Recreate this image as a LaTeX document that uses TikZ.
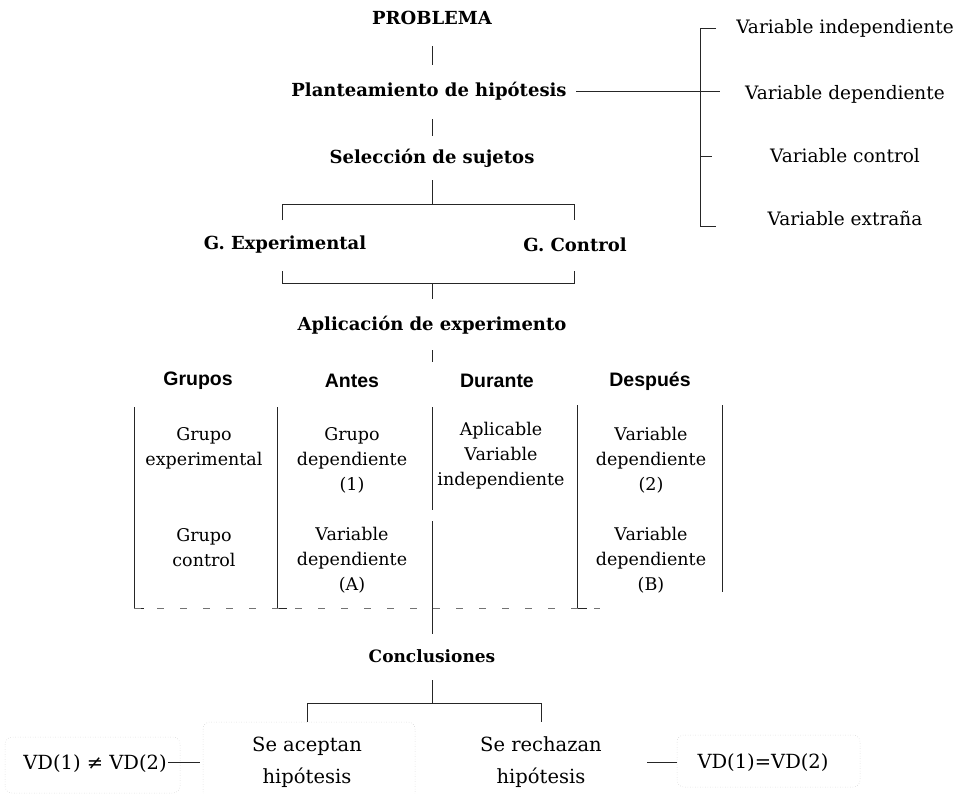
\documentclass[tikz,border=0pt]{standalone}
\usepackage{fontspec}
\setmainfont{DejaVu Serif}
\newfontfamily\headsans{Liberation Sans}
\begin{document}
\begin{tikzpicture}[x=1pt,y=-1pt,
  conn/.style={draw=black!85, line width=0.7pt},
  dashconn/.style={draw=black!55, line width=0.6pt, dash pattern=on 7pt off 16pt},
  ttl/.style={font=\fontsize{18}{21}\selectfont\bfseries, inner sep=0pt},
  var/.style={font=\fontsize{18.5}{22}\selectfont, inner sep=0pt},
  hdr/.style={font=\headsans\bfseries\fontsize{19.5}{22}\selectfont, inner sep=0pt},
  cell/.style={font=\fontsize{17.5}{25}\selectfont, align=center, inner sep=0pt},
  btm/.style={font=\fontsize{19.5}{32}\selectfont, align=center, inner sep=0pt},
  faint/.style={draw=black!22, line width=0.5pt, dotted, rounded corners=7pt},
]
\useasboundingbox (0,0) rectangle (969,793);

% main column
\node[ttl] (prob) at (432,18) {PROBLEMA};
\node[ttl] (plan) at (429,91) {Planteamiento de hipótesis};
\node[ttl] (sel)  at (432,158) {Selección de sujetos};
\node[ttl] (gexp) at (285,245) {G. Experimental};
\node[ttl] (gctl) at (575,245) {G. Control};
\node[ttl] (apl)  at (432,325) {Aplicación de experimento};

\coordinate (p1) at (432,46);  \coordinate (p2) at (432,65);
\coordinate (p3) at (432,119); \coordinate (p4) at (432,136);
\coordinate (p5) at (432,180); \coordinate (p6) at (432,204);
\coordinate (bl1) at (282,220); \coordinate (bl0) at (282,204);
\coordinate (br0) at (574,204); \coordinate (br1) at (574,220);
\coordinate (bl2) at (282,271); \coordinate (bl3) at (282,283);
\coordinate (br3) at (574,283); \coordinate (br2) at (574,271);
\coordinate (p7) at (432,283); \coordinate (p8) at (432,299);
\coordinate (p9) at (432,350); \coordinate (p10) at (432,362);
\draw[conn] (p1) -- (p2);
\draw[conn] (p3) -- (p4);
\draw[conn] (p5) -- (p6);
\draw[conn] (bl1) -- (bl0) -- (br0) -- (br1);
\draw[conn] (bl2) -- (bl3) -- (br3) -- (br2);
\draw[conn] (p7) -- (p8);
\draw[conn] (p9) -- (p10);

% variables on the right
\node[var] (vind) at (845,28)  {Variable independiente};
\node[var] (vdep) at (845,94)  {Variable dependiente};
\node[var] (vctl) at (845,156) {Variable control};
\node[var] (vext) at (845,218) {Variable extraña};
\coordinate (h0) at (576,91);
\coordinate (ht) at (700,28);  \coordinate (htt) at (716,28);
\coordinate (hm) at (700,91);  \coordinate (hmt) at (720,91);
\coordinate (hc) at (700,156); \coordinate (hct) at (712,156);
\coordinate (hb) at (700,226); \coordinate (hbt) at (716,226);
\draw[conn] (h0) -- (hmt);
\draw[conn] (htt) -- (ht) -- (hb) -- (hbt);
\draw[conn] (hc) -- (hct);

% table headers
\node[hdr] (hgr) at (198,381) {Grupos};
\node[hdr] (han) at (352,381) {Antes};
\node[hdr] (hdu) at (497,381) {Durante};
\node[hdr] (hde) at (650,381) {Después};

% table cells
\node[cell] (c11) at (204,448) {Grupo\\experimental};
\node[cell] (c12) at (352,460) {Grupo\\dependiente\\(1)};
\node[cell] (c13) at (501,456) {Aplicable\\Variable\\independiente};
\node[cell] (c14) at (651,460) {Variable\\dependiente\\(2)};
\node[cell] (c21) at (204,548) {Grupo\\control};
\node[cell] (c22) at (352,560) {Variable\\dependiente\\(A)};
\node[cell] (c24) at (651,560) {Variable\\dependiente\\(B)};

% table rules
\coordinate (t1a) at (134,407); \coordinate (t1b) at (134,608);
\coordinate (t2a) at (277,407); \coordinate (t2b) at (277,608);
\coordinate (t3a) at (432,407); \coordinate (t3b) at (432,510);
\coordinate (t3c) at (432,521); \coordinate (t3d) at (432,634);
\coordinate (t4a) at (577,405); \coordinate (t4b) at (577,608);
\coordinate (t5a) at (722,405); \coordinate (t5b) at (722,592);
\coordinate (tbe) at (600,608);
\draw[conn] (t1a) -- (t1b) -- ++(10,0);
\draw[conn] (t2a) -- (t2b) -- ++(10,0);
\draw[conn] (t3a) -- (t3b);
\draw[conn] (t3c) -- (t3d);
\draw[conn] (t4a) -- (t4b) -- ++(10,0);
\draw[conn] (t5a) -- (t5b);
\draw[dashconn] (t1b) -- (tbe);

% conclusions
\node[ttl, font=\fontsize{17}{20}\selectfont\bfseries] (conc) at (432,656) {Conclusiones};
\coordinate (q1) at (432,680); \coordinate (q2) at (432,703);
\coordinate (ql0) at (307,722); \coordinate (ql) at (307,703);
\coordinate (qr) at (541,703);  \coordinate (qr0) at (541,722);
\draw[conn] (q1) -- (q2);
\draw[conn] (ql0) -- (ql) -- (qr) -- (qr0);

\node[btm] (acc) at (307,762) {Se aceptan\\hipótesis};
\node[btm] (rej) at (541,762) {Se rechazan\\hipótesis};
\node[btm] (neq) at (95,764) {VD(1) ≠ VD(2)};
\node[btm] (eq)  at (763,763) {VD(1)=VD(2)};
\draw[faint] (5,737) rectangle (180,793);
\draw[faint] (203,722) rectangle (415,800);
\draw[faint] (677,735) rectangle (860,787);
\coordinate (n1) at (168,762); \coordinate (n2) at (200,762);
\coordinate (e1) at (647,762); \coordinate (e2) at (677,762);
\draw[conn] (n1) -- (n2);
\draw[conn] (e1) -- (e2);
\end{tikzpicture}
\end{document}
